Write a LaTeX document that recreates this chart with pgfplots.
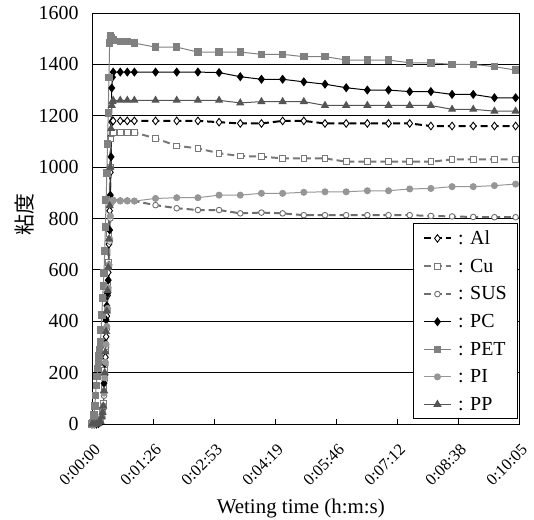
\documentclass[border=0pt]{standalone}
\usepackage{pgfplots}
\pgfplotsset{compat=1.18}
\usepackage{fontspec}
\setmainfont{Liberation Serif}
\newfontfamily\cjk{Noto Sans CJK JP}
\definecolor{cPET}{RGB}{128,128,128}
\definecolor{cPI}{RGB}{150,150,150}
\definecolor{cPP}{RGB}{85,85,85}
\definecolor{cCu}{RGB}{120,120,120}
\definecolor{cSUS}{RGB}{110,110,110}
\begin{document}
\begin{tikzpicture}
\path[use as bounding box] (-92bp,-96bp) rectangle (442bp,424bp);
\begin{axis}[
  at={(0,0)}, anchor=south west,
  scale only axis, width=427bp, height=411bp,
  xmin=0, xmax=604.8, ymin=0, ymax=1600,
  xtick={0,86.4,172.8,259.2,345.6,432,518.4,604.8},
  xticklabels={0:00:00,0:01:26,0:02:53,0:04:19,0:05:46,0:07:12,0:08:38,0:10:05},
  ytick={0,200,...,1600},
  ymajorgrids, major grid style={black, line width=0.8pt},
  axis line style={black, line width=0.8pt},
  tick style={black, line width=0.8pt}, major tick length=5bp,
  tick align=inside, xtick pos=bottom, ytick pos=left,
  /pgf/number format/assume math mode=true,
  /pgf/number format/1000 sep={},
  yticklabel style={font=\fontsize{20}{23}\selectfont, xshift=-10bp},
  xticklabel style={font=\fontsize{16.5}{19}\selectfont, rotate=45, anchor=east, inner sep=1bp, xshift=-11bp, yshift=-20bp},
  xlabel={Weting time (h:m:s)},
  xlabel style={font=\fontsize{21}{24}\selectfont, at={(axis description cs:0.489,-0.206)}, anchor=center},
  ylabel={\cjk 粘度},
  ylabel style={font=\fontsize{21}{24}\selectfont, at={(axis description cs:-0.159,0.51)}, anchor=center},
  legend style={at={(axis description cs:0.998,0.012)}, anchor=south east, draw=black, line width=0.8pt,
    font=\fontsize{20}{23}\selectfont, row sep=9bp, inner xsep=9bp, inner ysep=5bp, cells={anchor=west}},
  legend image code/.code={\draw[mark repeat=2,mark phase=2] plot coordinates {(0cm,0cm) (0.48cm,0cm) (0.96cm,0cm)};},
  clip=false,
]
% Al
\addplot[black, line width=2pt, dash pattern=on 7pt off 4pt, mark=diamond*, mark options={solid, fill=white, line width=0.9pt}, mark size=3.8bp] coordinates {
(0,0)(3,0)(6,0)(9,2)(12,8)(14,25)(15,40)(16,60)(17,120)(18,190)(19,260)(20,340)(21,420)(22,500)(23,590)(24,700)(25,830)(26,980)(27,1120)(28,1175)(29,1180)(30,1180)(40,1180)(50,1180)(60,1180)(90,1180)(120,1180)(150,1180)(180,1175)(210,1170)(240,1170)(270,1180)(300,1180)(330,1170)(360,1170)(390,1170)(420,1170)(450,1170)(480,1160)(510,1160)(540,1160)(570,1160)(600,1160)};
\addlegendentry{\hspace{4bp}: Al}
% Cu
\addplot[cCu, line width=2pt, dash pattern=on 7pt off 4pt, mark=square*, mark options={solid, fill=white, line width=0.9pt}, mark size=2.8bp] coordinates {
(0,0)(3,0)(6,2)(9,5)(12,15)(14,35)(15,55)(16,80)(17,140)(18,210)(19,290)(20,370)(21,450)(22,540)(23,630)(24,740)(25,870)(26,1000)(27,1110)(28,1135)(30,1135)(40,1135)(50,1135)(60,1135)(90,1112)(120,1083)(150,1073)(180,1054)(210,1043)(240,1041)(270,1034)(300,1034)(330,1034)(360,1021)(390,1021)(420,1021)(450,1021)(480,1021)(510,1030)(540,1030)(570,1030)(600,1030)};
\addlegendentry{\hspace{4bp}: Cu}
% SUS
\addplot[cSUS, line width=2pt, dash pattern=on 7pt off 4pt, mark=*, mark options={solid, fill=white, line width=0.9pt}, mark size=2.8bp] coordinates {
(0,0)(3,0)(6,0)(9,3)(12,10)(14,25)(15,40)(16,60)(17,110)(18,170)(19,230)(20,300)(21,370)(22,440)(23,520)(24,610)(25,710)(26,800)(27,860)(28,872)(30,872)(40,870)(50,870)(60,868)(90,852)(120,840)(150,833)(180,833)(210,820)(240,823)(270,820)(300,813)(330,813)(360,813)(390,813)(420,813)(450,813)(480,810)(510,808)(540,806)(570,805)(600,805)};
\addlegendentry{\hspace{4bp}: SUS}
% PC
\addplot[black, line width=1pt, mark=diamond*, mark options={solid, fill=black}, mark size=3.8bp] coordinates {
(0,0)(3,0)(6,0)(9,2)(12,10)(14,30)(15,45)(16,66)(17,158)(18,236)(19,314)(20,405)(21,460)(22,509)(23,560)(24,619)(25,755)(26,891)(27,1040)(28,1308)(29,1350)(30,1370)(40,1370)(50,1370)(60,1370)(90,1370)(120,1370)(150,1370)(180,1368)(210,1352)(240,1342)(270,1342)(300,1332)(330,1323)(360,1309)(390,1300)(420,1300)(450,1294)(480,1294)(510,1283)(540,1283)(570,1270)(600,1270)};
\addlegendentry{\hspace{4bp}: PC}
% PET
\addplot[cPET, line width=1pt, mark=square*, mark options={solid, fill=cPET}, mark size=3.2bp] coordinates {
(0,0)(1,5)(2,15)(3,35)(4,70)(5,110)(6,150)(7,185)(8,215)(9,240)(10,265)(11,290)(12,320)(13,366)(14,424)(15,490)(16,537)(17,588)(18,674)(19,767)(20,872)(21,977)(22,1090)(23,1211)(24,1350)(25,1483)(26,1510)(28,1505)(30,1495)(40,1490)(50,1488)(60,1483)(90,1467)(120,1467)(150,1448)(180,1448)(210,1448)(240,1439)(270,1439)(300,1430)(330,1430)(360,1417)(390,1417)(420,1417)(450,1406)(480,1406)(510,1400)(540,1400)(570,1391)(600,1378)};
\addlegendentry{\hspace{4bp}: PET}
% PI
\addplot[cPI, line width=1pt, mark=*, mark options={solid, fill=cPI}, mark size=3bp] coordinates {
(0,0)(3,0)(6,2)(9,5)(12,12)(14,30)(15,45)(16,70)(17,120)(18,180)(19,240)(20,310)(21,380)(22,450)(23,530)(24,620)(25,720)(26,810)(27,860)(28,870)(30,870)(40,868)(50,868)(60,868)(90,878)(120,881)(150,881)(180,891)(210,891)(240,898)(270,898)(300,902)(330,904)(360,904)(390,908)(420,908)(450,915)(480,917)(510,924)(540,924)(570,928)(600,934)};
\addlegendentry{\hspace{4bp}: PI}
% PP
\addplot[cPP, line width=1pt, mark=triangle*, mark options={solid, fill=cPP}, mark size=3.8bp] coordinates {
(0,0)(3,0)(6,0)(9,3)(12,10)(14,28)(15,45)(16,70)(17,130)(18,200)(19,280)(20,360)(21,440)(22,520)(23,610)(24,720)(25,850)(26,1000)(27,1150)(28,1240)(29,1255)(30,1260)(40,1260)(50,1260)(60,1260)(90,1260)(120,1260)(150,1260)(180,1260)(210,1250)(240,1255)(270,1255)(300,1255)(330,1240)(360,1240)(390,1240)(420,1240)(450,1240)(480,1240)(510,1225)(540,1225)(570,1218)(600,1218)};
\addlegendentry{\hspace{4bp}: PP}
\end{axis}
\end{tikzpicture}
\end{document}
